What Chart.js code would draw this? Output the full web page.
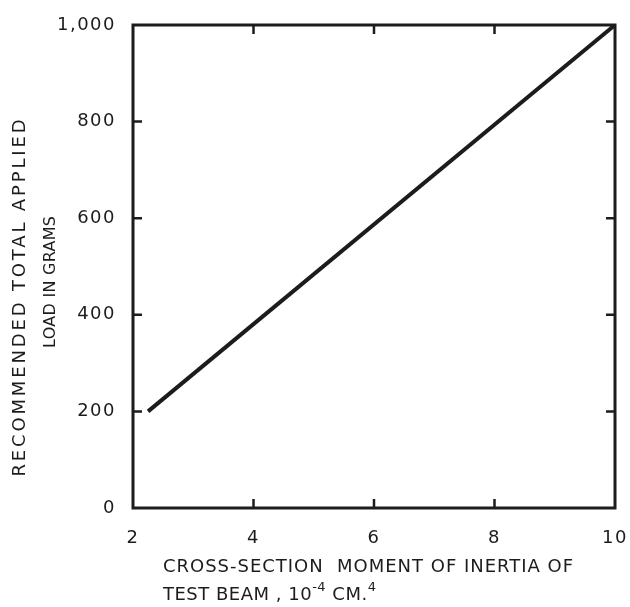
<!DOCTYPE html>
<html>
<head>
<meta charset="utf-8">
<script src="https://cdn.jsdelivr.net/npm/chart.js@4/dist/chart.umd.min.js"></script>
<style>
  html, body { margin: 0; padding: 0; background: #fff; }
  #wrap { width: 630px; height: 607px; }
</style>
</head>
<body>
<div id="wrap"><canvas id="grafico"></canvas></div>
<script>
// dados
const momentoInercia = [2.25, 10];
const cargaGramas = [200, 1000];
const ticksX = [2, 4, 6, 8, 10];
const ticksY = [0, 200, 400, 600, 800, 1000];
const rotulosY = ["0", "200", "400", "600", "800", "1,000"];

const tinta = "#1c1c1c";
const fonte = "'DejaVu Sans', sans-serif";

// escreve texto esticado até uma largura alvo
function escreveEspacado(ctx, texto, x, y, largura, fontCss) {
    ctx.font = fontCss;
    ctx.letterSpacing = "0px";
    const w = ctx.measureText(texto).width;
    const extra = (largura - w) / (texto.length - 1);
    ctx.letterSpacing = extra + "px";
    ctx.textAlign = "left";
    ctx.fillText(texto, x - largura / 2, y);
    ctx.letterSpacing = "0px";
}

const molduraPlugin = {
    id: "moldura",
    beforeLayout(chart) { chart.ctx.letterSpacing = "1.5px"; },
    beforeDraw(chart) { chart.ctx.letterSpacing = "1.5px"; },
    afterDraw(chart) {
        const ctx = chart.ctx;
        const a = chart.chartArea;
        const sx = chart.scales.x, sy = chart.scales.y;
        ctx.save();
        ctx.letterSpacing = "0px";
        ctx.strokeStyle = tinta;
        ctx.fillStyle = tinta;
        ctx.lineWidth = 3;
        ctx.strokeRect(a.left, a.top, a.right - a.left, a.bottom - a.top);
        // marcas para dentro nos quatro lados
        ctx.lineWidth = 2.5;
        ctx.beginPath();
        ticksX.slice(1, -1).forEach(v => {
            const px = sx.getPixelForValue(v);
            ctx.moveTo(px, a.bottom); ctx.lineTo(px, a.bottom - 9);
            ctx.moveTo(px, a.top); ctx.lineTo(px, a.top + 9);
        });
        ticksY.slice(1, -1).forEach(v => {
            const py = sy.getPixelForValue(v);
            ctx.moveTo(a.left, py); ctx.lineTo(a.left + 9, py);
            ctx.moveTo(a.right, py); ctx.lineTo(a.right - 9, py);
        });
        ctx.stroke();

        // título do eixo x
        ctx.textBaseline = "alphabetic";
        escreveEspacado(ctx, "CROSS-SECTION  MOMENT OF INERTIA OF", 368, 572, 410, "18px " + fonte);
        ctx.letterSpacing = "0.5px";
        ctx.textAlign = "left";
        let x = 163;
        const partes = [
            ["TEST BEAM , 10", 18, 0],
            ["-4", 13, -9],
            [" CM.", 18, 0],
            ["4", 13, -9]
        ];
        partes.forEach(p => {
            ctx.font = p[1] + "px " + fonte;
            ctx.fillText(p[0], x, 600 + p[2]);
            x += ctx.measureText(p[0]).width;
        });
        ctx.letterSpacing = "0px";

        // título do eixo y (girado)
        ctx.save();
        ctx.translate(25, 298);
        ctx.rotate(-Math.PI / 2);
        escreveEspacado(ctx, "RECOMMENDED TOTAL APPLIED", 0, 0, 357, "18px " + fonte);
        ctx.restore();
        ctx.save();
        ctx.translate(55, 282);
        ctx.rotate(-Math.PI / 2);
        escreveEspacado(ctx, "LOAD IN GRAMS", 0, 0, 132, "16px " + fonte);
        ctx.restore();
        ctx.restore();
    }
};

new Chart(document.getElementById("grafico"), {
    type: "line",
    data: {
        labels: momentoInercia,
        datasets: [{
            data: momentoInercia.map((v, i) => ({ x: v, y: cargaGramas[i] })),
            borderColor: tinta,
            borderWidth: 4,
            pointRadius: 0,
            fill: false,
            tension: 0
        }]
    },
    options: {
        responsive: true,
        maintainAspectRatio: false,
        animation: false,
        layout: { padding: { top: 25, right: 15, left: 0, bottom: 0 } },
        plugins: {
            legend: { display: false },
            tooltip: { enabled: false }
        },
        scales: {
            x: {
                type: "linear",
                min: 2,
                max: 10,
                afterBuildTicks: s => { s.ticks = ticksX.map(v => ({ value: v })); },
                afterFit: s => { s.height = 99; s.paddingLeft = 0; s.paddingRight = 0; },
                grid: { display: false },
                border: { display: false },
                ticks: {
                    color: tinta,
                    padding: 12,
                    maxRotation: 0,
                    font: { family: fonte, size: 18 }
                }
            },
            y: {
                min: 0,
                max: 1000,
                afterBuildTicks: s => { s.ticks = ticksY.map(v => ({ value: v })); },
                afterFit: s => { s.width = 133; s.paddingTop = 0; s.paddingBottom = 0; },
                grid: { display: false },
                border: { display: false },
                ticks: {
                    color: tinta,
                    padding: 9,
                    font: { family: fonte, size: 18 },
                    callback: v => rotulosY[ticksY.indexOf(v)]
                }
            }
        }
    },
    plugins: [molduraPlugin]
});
</script>
</body>
</html>
